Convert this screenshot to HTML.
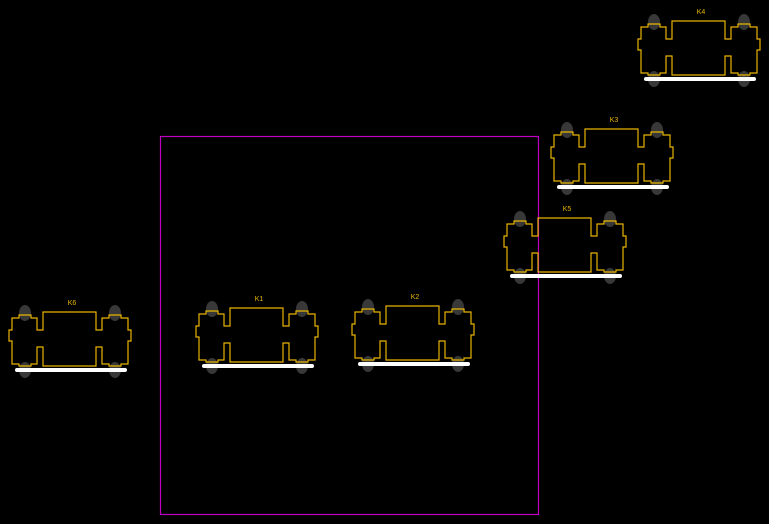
<!DOCTYPE html>
<html><head><style>body{margin:0;background:#000}svg{display:block}</style></head><body>
<svg width="769" height="524" xmlns="http://www.w3.org/2000/svg">
<defs>
<g id="c">
<ellipse cx="22" cy="19" rx="6" ry="8" fill="#383838"/>
<ellipse cx="112" cy="19" rx="6" ry="8" fill="#383838"/>
<ellipse cx="22" cy="76" rx="6" ry="8" fill="#383838"/>
<ellipse cx="112" cy="76" rx="6" ry="8" fill="#383838"/>
<path d="M40,18 H93 V36 H99 V24 H106 V21 H118 V24 H125 V36 H128 V47 H125 V70 H118 V72 H106 V70 H99 V53 H93 V72 H40 V53 H34 V70 H28 V72 H16 V70 H9 V47 H6 V36 H9 V24 H16 V21 H28 V24 H34 V36 H40 Z" fill="none" stroke="#e8b400" stroke-width="1.2"/>
<line x1="14" y1="76" x2="122" y2="76" stroke="#fff" stroke-width="4" stroke-linecap="round"/>
</g>
</defs>
<rect x="160.5" y="136.5" width="378" height="378" fill="none" stroke="#c000c0" stroke-width="1.2"/>
<g font-family="Liberation Sans, sans-serif" font-size="7" fill="#e8b400" text-anchor="middle">
<use href="#c" x="190" y="290"/><text x="259" y="301">K1</text>
<use href="#c" x="346" y="288"/><text x="415" y="299">K2</text>
<use href="#c" x="3" y="294"/><text x="72" y="305">K6</text>
<use href="#c" x="498" y="200"/><text x="567" y="211">K5</text>
<use href="#c" x="545" y="111"/><text x="614" y="122">K3</text>
<use href="#c" x="632" y="3"/><text x="701" y="14">K4</text>
</g>
</svg>
</body></html>
